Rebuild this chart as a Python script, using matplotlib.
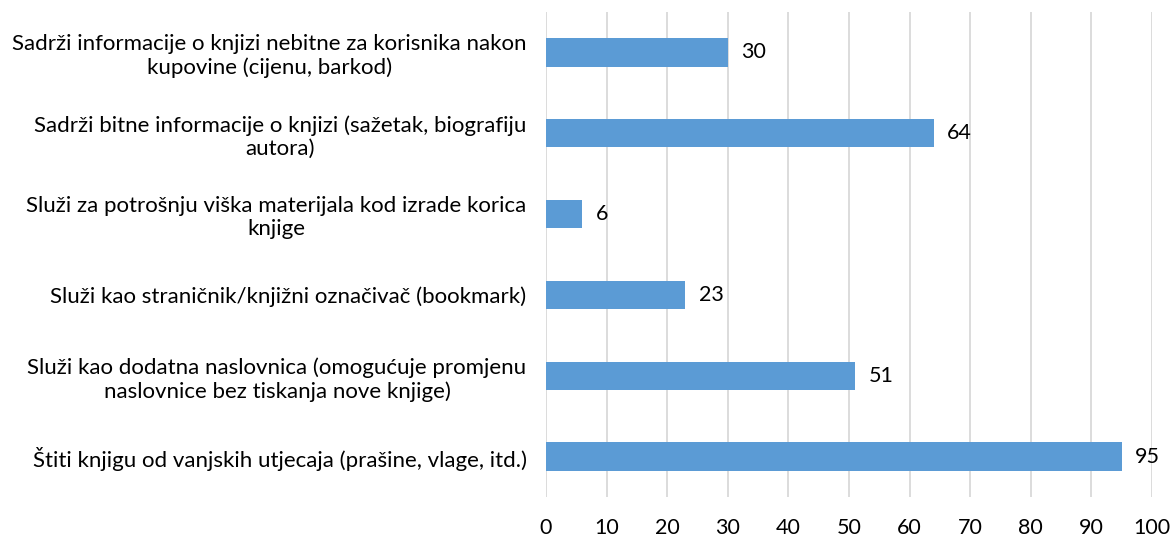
import matplotlib.pyplot as plt

labels = [
    "Sadrži informacije o knjizi nebitne za korisnika nakon\nkupovine (cijenu, barkod)",
    "Sadrži bitne informacije o knjizi (sažetak, biografiju\nautora)",
    "Služi za potrošnju viška materijala kod izrade korica\nknjige",
    "Služi kao straničnik/knjižni označivač (bookmark)",
    "Služi kao dodatna naslovnica (omogućuje promjenu\nnaslovnice bez tiskanja nove knjige)",
    "Štiti knjigu od vanjskih utjecaja (prašine, vlage, itd.)",
]
values = [30, 64, 6, 23, 51, 95]
xticks = [0, 10, 20, 30, 40, 50, 60, 70, 80, 90, 100]

plt.rcParams['font.family'] = ['Lato', 'DejaVu Sans']
fs = 15.5

fig = plt.figure(figsize=(11.73, 5.38), dpi=100)
# plot area in pixels: x 546..1152, y 12..497
ax = fig.add_axes([546 / 1173, 41 / 538, 606 / 1173, 485 / 538])

y = list(range(len(values)))[::-1]
ax.barh(y, values, height=0.35, color='#5B9BD5', zorder=3)
for yi, v in zip(y, values):
    ax.text(v + 2.2, yi, str(v), va='center', ha='left', fontsize=fs, color='#000000')

ax.set_xlim(0, 100)
ax.set_ylim(-0.5, len(values) - 0.5)
ax.set_xticks(xticks)
ax.set_xticklabels([str(t) for t in xticks], fontsize=fs)
ax.set_yticks(y)
ax.set_yticklabels(labels, fontsize=16, ha='right', multialignment='center',
                   linespacing=1.2)
ax.tick_params(axis='y', length=0, pad=14)
ax.tick_params(axis='x', length=0, pad=15)
ax.grid(axis='x', color='#D9D9D9', linewidth=1.3, zorder=0)
for s in ax.spines.values():
    s.set_visible(False)

fig.savefig('out.png', dpi=100)
